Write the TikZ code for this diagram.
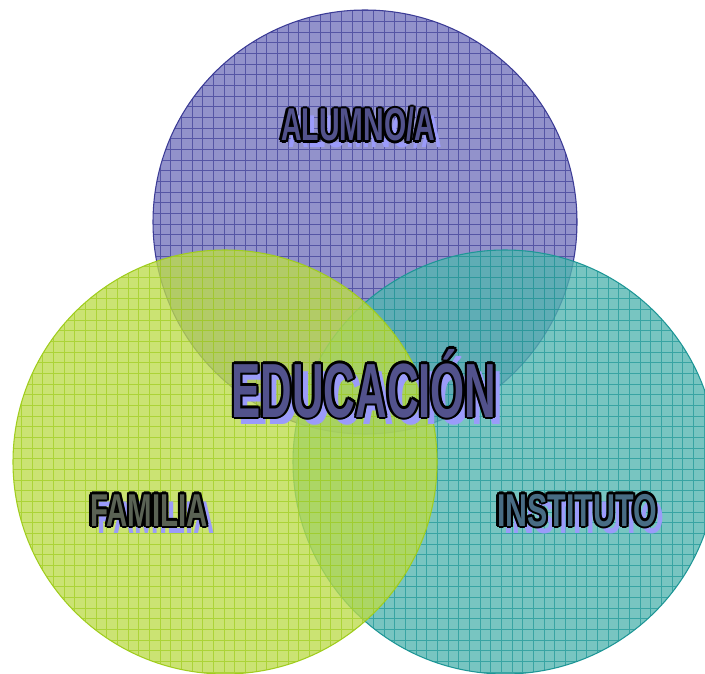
\documentclass[tikz,border=0pt]{standalone}
\usepackage{fontspec}
\setmainfont{Liberation Sans}
\usepackage{graphicx}

\definecolor{alumno}{RGB}{115,115,188}
\definecolor{alumnoDk}{RGB}{60,60,150}
\definecolor{instituto}{RGB}{82,181,175}
\definecolor{institutoDk}{RGB}{30,150,150}
\definecolor{familia}{RGB}{188,219,75}
\definecolor{familiaDk}{RGB}{160,205,30}
\definecolor{shadowlav}{RGB}{155,155,250}
\definecolor{wordA}{RGB}{82,82,140}
\definecolor{wordF}{RGB}{90,98,84}
\definecolor{wordI}{RGB}{72,108,132}

\tikzset{word/.style={inner sep=0pt, anchor=base}}

% shadow, black rim, then the filled letters
\newcommand{\vennlabel}[4]{%
  \node[word, text=shadowlav] (#1-s) at ($(#2)+(7,7)$) {#4};
  \foreach \a in {0,30,...,330}
    \node[word, text=black, shift={(\a:2.3)}] (#1-o\a) at (#2) {#4};
  \node[word, text=#3] (#1) at (#2) {#4};
}

\usetikzlibrary{calc}

\begin{document}
\begin{tikzpicture}[x=0.75pt, y=-0.75pt]
    \useasboundingbox (0,0) rectangle (705,673);
    \clip (0,0) rectangle (705,673);
    % circles
    \foreach \cx/\cy/\tone in {365/222/alumno, 505/462/instituto, 225/462/familia} {
        \begin{scope}
            \clip (\cx,\cy) circle (212);
            \fill[color=\tone, fill opacity=0.78] (\cx,\cy) circle (212);
            \draw[color=\tone Dk, opacity=0.7, line width=0.5pt, step=8pt] (0,0) grid (705,673);
        \end{scope}
        \draw[color=\tone Dk, line width=0.8pt] (\cx,\cy) circle (212);
    }
    % labels
    \vennlabel{alumno}{358,141}{wordA}{\scalebox{0.62}[1]{\fontsize{34.5}{34.5}\selectfont\bfseries ALUMNO/A}}
    \vennlabel{educacion}{364,417}{wordA}{\scalebox{0.57}[1]{\fontsize{57.6}{57.6}\selectfont\bfseries EDUCACIÓN}}
    \vennlabel{familia}{149,526}{wordF}{\scalebox{0.64}[1]{\fontsize{34.5}{34.5}\selectfont\bfseries FAMILIA}}
    \vennlabel{instituto}{577,526}{wordI}{\scalebox{0.66}[1]{\fontsize{34.5}{34.5}\selectfont\bfseries INSTITUTO}}
\end{tikzpicture}
\end{document}
